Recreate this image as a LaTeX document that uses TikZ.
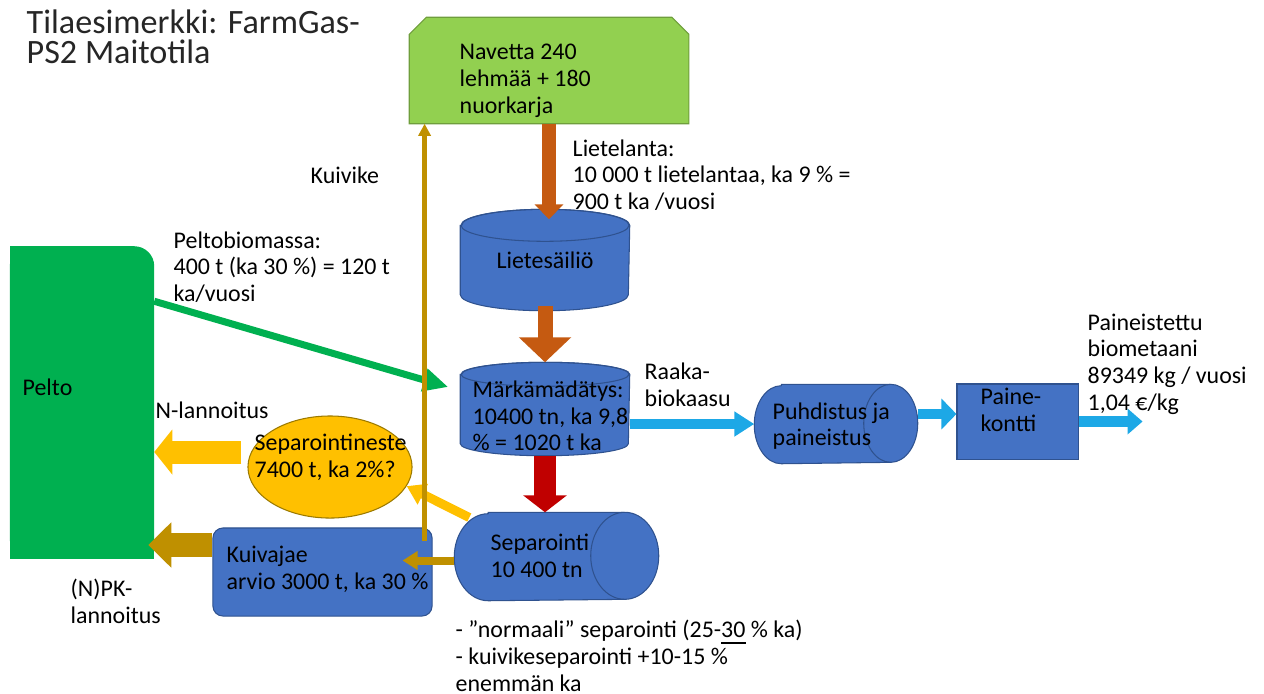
\documentclass[tikz,border=0pt]{standalone}
\usepackage{fontspec}
\setmainfont{Carlito}
\usetikzlibrary{arrows.meta,shapes.geometric,backgrounds}
\definecolor{navgreen}{HTML}{92D050}
\definecolor{navedge}{HTML}{6F9E3C}
\definecolor{peltogreen}{HTML}{00B050}
\definecolor{procblue}{HTML}{4472C4}
\definecolor{procedge}{HTML}{2F528F}
\definecolor{manure}{HTML}{C55A11}
\definecolor{digred}{HTML}{C00000}
\definecolor{gasblue}{HTML}{1DA8E6}
\definecolor{liquid}{HTML}{FFC000}
\definecolor{liquidedge}{HTML}{9C7A00}
\definecolor{solid}{HTML}{BF9000}
\definecolor{titlegray}{HTML}{262626}
% upright tank: node, half width, cap radius
\newcommand{\drumv}[3]{%
  \filldraw[proc] ([yshift=-#3]#1.north west) -- ([yshift=#3]#1.south west)
    arc[start angle=180, end angle=360, x radius=#2, y radius=#3]
    -- ([yshift=-#3]#1.north east)
    arc[start angle=0, end angle=180, x radius=#2, y radius=#3] -- cycle;
  \draw[procedge, line width=0.3pt] ([yshift=-#3]#1.north) ellipse [x radius=#2, y radius=#3];}
% lying drum: node, cap radius, half height
\newcommand{\drumh}[3]{%
  \filldraw[proc] ([xshift=#2]#1.north west) -- ([xshift=-#2]#1.north east)
    arc[start angle=90, end angle=-90, x radius=#2, y radius=#3]
    -- ([xshift=#2]#1.south west)
    arc[start angle=270, end angle=90, x radius=#2, y radius=#3] -- cycle;
  \draw[procedge, line width=0.3pt] ([xshift=-#2]#1.north east)
    arc[start angle=90, end angle=270, x radius=#2, y radius=#3];}

\begin{document}
\begin{tikzpicture}[x=0.01cm, y=-0.01cm,
  every node/.style={font=\fontsize{6.8}{7.6}\selectfont, inner sep=0pt, align=left},
  txt/.style={anchor=west},
  proc/.style={fill=procblue, draw=procedge, line width=0.3pt},
  pipe/.style n args={4}{draw=#1, line width=#2, -{Triangle[width=#3, length=#4]}}]
\useasboundingbox (0,0) rectangle (1264,693);

% title
\node[txt, font=\fontsize{9.7}{8.6}\selectfont, text=titlegray] (title) at (26,37)
  {Tilaesimerkki: FarmGas-\\PS2 Maitotila};

% barn, field and process units (outlines only, drawn below)
\node[minimum width=2.78cm, minimum height=1.05cm] (navetta) at (549,70.5) {};
\node[minimum width=1.43cm, minimum height=3.11cm] (pelto) at (82,402.5) {};
\node[minimum width=1.68cm, minimum height=1.0cm] (liete) at (545,260) {Lietesäiliö};
\node[minimum width=1.68cm, minimum height=0.92cm] (maerk) at (545,409) {};
\node[minimum width=1.62cm, minimum height=0.78cm] (puhd) at (836,424) {};
\node[minimum width=2.03cm, minimum height=0.87cm] (separ) at (556.5,556.5) {};
\node[proc, minimum width=1.21cm, minimum height=0.75cm] (paine) at (1017.5,421.5) {};
\node[ellipse, fill=liquid, draw=liquidedge, line width=0.3pt,
  minimum width=1.64cm, minimum height=1.02cm] (sepneste) at (330,467) {};
\node[proc, rounded corners=0.1cm, minimum width=2.19cm, minimum height=0.88cm] (kuiv) at (322.5,572) {};

\begin{scope}[on background layer]
  \filldraw[fill=navgreen, draw=navedge, line width=0.3pt] (navetta.south west)
    -- ([yshift=-0.17cm]navetta.north west) -- ([xshift=0.17cm]navetta.north west)
    -- ([xshift=-0.17cm]navetta.north east) -- ([yshift=-0.17cm]navetta.north east)
    -- (navetta.south east) -- cycle;
  \fill[peltogreen, rounded corners=0.2cm] (pelto.south west) rectangle (pelto.north east);
  \fill[peltogreen] (pelto.south west) rectangle ([xshift=-0.2cm]pelto.north east);
  \fill[peltogreen] (pelto.south west) rectangle ([yshift=-0.2cm]pelto.north east);
  \drumv{liete}{0.84cm}{0.16cm}
  \drumv{maerk}{0.84cm}{0.12cm}
  \drumh{puhd}{0.27cm}{0.39cm}
  \drumh{separ}{0.34cm}{0.435cm}
\end{scope}

% texts in the shapes
\node[txt] (navettatxt) at (459,81) {Navetta 240\\lehmää + 180\\nuorkarja};
\node[txt] (peltotxt) at (22,387) {Pelto};
\node[txt] (maerktxt) at (472,416) {Märkämädätys:\\10400 tn, ka 9,8\\\% = 1020 t ka};
\node[txt] (puhdtxt) at (772,426) {Puhdistus ja\\paineistus};
\node[txt] (painetxt) at (980,410) {Paine-\\kontti};
\node[txt] (separtxt) at (490,556) {Separointi\\10 400 tn};
\node[txt] (sepnestetxt) at (254,457) {Separointineste\\7400 t, ka 2\%?};
\node[txt] (kuivtxt) at (226,569) {Kuivajae\\arvio 3000 t, ka 30 \%};

% flows
\draw[pipe={manure}{0.14cm}{0.28cm}{0.15cm}] (navetta.south) -- ([yshift=-0.1cm]navetta.south |- liete.north);
\draw[pipe={manure}{0.15cm}{0.51cm}{0.25cm}] ([yshift=0.05cm]liete.south) -- (maerk.north);
\draw[pipe={digred}{0.22cm}{0.43cm}{0.17cm}] (maerk.south) -- (maerk.south |- separ.north);
\draw[pipe={gasblue}{0.10cm}{0.24cm}{0.20cm}] (puhd.west -| maerk.east) -- (puhd.west);
\draw[pipe={gasblue}{0.10cm}{0.30cm}{0.15cm}] ([yshift=0.1cm]puhd.east) -- ([yshift=0.1cm]puhd.east -| paine.west);
\draw[pipe={gasblue}{0.11cm}{0.25cm}{0.15cm}] (paine.east) -- ++(64,0) coordinate (out);
\draw[pipe={peltogreen}{0.07cm}{0.22cm}{0.25cm}] ([yshift=-0.55cm]pelto.north east) -- ([shift={(-12,-22)}]maerk.west);
\draw[pipe={liquid}{0.23cm}{0.44cm}{0.18cm}] ([shift={(-6,-15)}]sepneste.west) coordinate (yb) -- (yb -| pelto.east);
\draw[pipe={solid}{0.24cm}{0.44cm}{0.23cm}] ([yshift=0.27cm]kuiv.west) coordinate (tb) -- ([xshift=-0.06cm]tb -| pelto.east);
\draw[pipe={liquid}{0.09cm}{0.22cm}{0.18cm}] ([shift={(15,-39)}]separ.west) -- (sepneste.-14);
\draw[pipe={solid}{0.08cm}{0.18cm}{0.15cm}] ([yshift=-0.04cm]separ.west) coordinate (tt) -- ([xshift=-0.3cm]tt -| kuiv.east);
\draw[pipe={solid}{0.05cm}{0.12cm}{0.12cm}] ([shift={(-8,14)}]kuiv.north east) coordinate (kv) -- (kv |- navetta.south);

% labels
\node[txt] (lietelanta) at (572,175) {Lietelanta:\\10 000 t lietelantaa, ka 9 \% =\\900 t ka /vuosi};
\node[txt] (kuivike) at (310,175) {Kuivike};
\node[txt] (peltobio) at (173,267) {Peltobiomassa:\\400 t (ka 30 \%) = 120 t\\ka/vuosi};
\node[txt] (nlann) at (155,410) {N-lannoitus};
\node[txt] (raaka) at (644,385) {Raaka-\\biokaasu};
\node[txt] (metaani) at (1087,364) {Paineistettu\\biometaani\\89349 kg / vuosi\\1,04 €/kg};
\node[txt] (npk) at (70,601) {(N)PK-\\lannoitus};
\node[txt] (huom) at (455,656) {- ”normaali” separointi (25-\underline{30} \% ka)\\- kuivikeseparointi +10-15 \%\\enemmän ka};
\end{tikzpicture}
\end{document}
